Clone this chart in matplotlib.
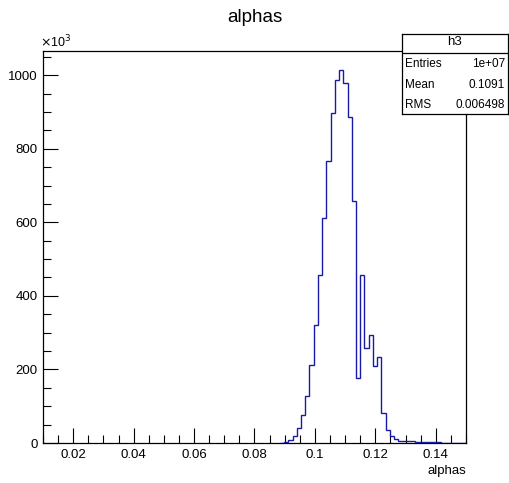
import numpy as np
import matplotlib
matplotlib.use("Agg")
import matplotlib.pyplot as plt
from matplotlib.ticker import MultipleLocator, FuncFormatter

plt.rcParams['font.family'] = ['Liberation Sans', 'DejaVu Sans']

# ---- data (counts in units of 10^3) ----
x_min, x_max, n_bins = 0.01, 0.15, 100
nonzero_start = 56
nonzero_counts = [1, 4, 7, 19, 40, 75, 129, 211, 322, 456, 611, 766, 898, 987,
                  1015, 980, 885, 659, 178, 456, 258, 294, 210, 235, 82, 36, 18,
                  12, 6, 6, 6, 6, 2, 2, 2, 2, 2, 2, 1, 1, 1, 1, 1, 1]
counts = [0] * nonzero_start + nonzero_counts
counts = counts + [0] * (n_bins - len(counts))
edges = np.linspace(x_min, x_max, n_bins + 1)

title = "alphas"
xlabel = "alphas"
stats_name = "h3"
stats_rows = [("Entries", "1e+07"), ("Mean", "0.1091"), ("RMS", "0.006498")]

W, H = 509, 483
fig = plt.figure(figsize=(W / 100, H / 100), dpi=100)
ax = fig.add_axes([43 / W, 1 - 443 / H, 423 / W, 392 / H])

ax.stairs(counts[nonzero_start:], edges[nonzero_start:], color='#1a1aa8',
          lw=1.0, zorder=3)
ax.set_xlim(x_min, x_max)
ax.set_ylim(0, 1.05 * max(counts))

for s in ax.spines.values():
    s.set_linewidth(0.9)
    s.set_color('black')

ax.xaxis.set_major_locator(MultipleLocator(0.02))
ax.xaxis.set_minor_locator(MultipleLocator(0.005))
ax.yaxis.set_major_locator(MultipleLocator(200))
ax.yaxis.set_minor_locator(MultipleLocator(50))
ax.xaxis.set_major_formatter(FuncFormatter(lambda v, p: f"{v:g}"))
ax.yaxis.set_major_formatter(FuncFormatter(lambda v, p: f"{v:g}"))
ax.tick_params(which='both', direction='in', top=False, right=False,
               labelsize=9.5, width=0.8)
ax.tick_params(which='major', length=11, pad=4)
ax.tick_params(which='minor', length=6)

ax.text(-0.008, 1.002, r"$\times$10$^{3}$", transform=ax.transAxes,
        fontsize=9, ha='left', va='bottom')

fig.text(0.5, 1 - 17 / H, title, ha='center', va='center', fontsize=13.5)
fig.text(466 / W, 1 - 471 / H, xlabel, ha='right', va='center', fontsize=9.5)

# stats box
bx0, bx1, by0, by1 = 402, 508, 34, 114
sax = fig.add_axes([bx0 / W, 1 - by1 / H, (bx1 - bx0) / W, (by1 - by0) / H])
sax.set_xlim(0, 1)
sax.set_ylim(0, 1)
sax.set_xticks([])
sax.set_yticks([])
for s in sax.spines.values():
    s.set_linewidth(0.9)
sep = (by1 - 53) / (by1 - by0)
sax.axhline(sep, color='black', lw=0.9)
sax.text(0.5, (by1 - 42) / (by1 - by0), stats_name, ha='center', va='center',
         fontsize=9.5)
row_y = [64, 85, 105]
for (lab, val), yy in zip(stats_rows, row_y):
    yf = (by1 - yy) / (by1 - by0)
    sax.text(0.03, yf, lab, ha='left', va='center', fontsize=8.5)
    sax.text(0.97, yf, val, ha='right', va='center', fontsize=8.5)

fig.savefig("out.png", dpi=100)
